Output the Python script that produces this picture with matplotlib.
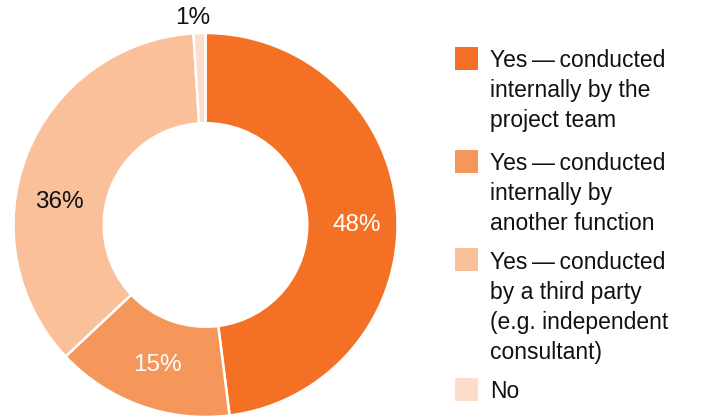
import matplotlib
matplotlib.use("Agg")
import matplotlib.pyplot as plt
from matplotlib.patches import Rectangle

plt.rcParams['font.family'] = ['Liberation Sans', 'DejaVu Sans']

# Data
categories = [
    "Yes\u2009\u2014\u2009conducted\ninternally by the\nproject team",
    "Yes\u2009\u2014\u2009conducted\ninternally by\nanother function",
    "Yes\u2009\u2014\u2009conducted\nby a third party\n(e.g. independent\nconsultant)",
    "No",
]
values = [48, 15, 36, 1]
pct_labels = ["48%", "15%", "36%", "1%"]
colors = ["#F37024", "#F5965B", "#FAC09A", "#FDDDCA"]
label_colors = ["white", "white", "#111111", "#111111"]
# label positions (fraction of radius, layout only)
label_pos = [(0.79, 0.0), (-0.25, -0.73), (-0.76, 0.12), (-0.065, 1.08)]

W, H = 705, 417
fig = plt.figure(figsize=(W / 100, H / 100), dpi=100)

cx, cy, R = 205.5, 225, 192
ax = fig.add_axes([(cx - R) / W, (H - cy - R) / H, 2 * R / W, 2 * R / H])
wedges, _ = ax.pie(values, colors=colors, startangle=90, counterclock=False,
                   radius=1.0,
                   wedgeprops=dict(width=0.47, edgecolor="white", linewidth=1.8))
ax.set_xlim(-1, 1)
ax.set_ylim(-1, 1)
ax.set_aspect("equal")
ax.axis("off")

for lab, (x, y), c in zip(pct_labels, label_pos, label_colors):
    ax.text(x, y, lab, ha="center", va="center", fontsize=17.5, color=c, clip_on=False)

# Legend (manual layout)
sq_tops = [47, 150, 248, 378]
baselines = [67, 170, 269, 398]
line_step = 30
sq = 23
for col, cat, top, base in zip(colors, categories, sq_tops, baselines):
    fig.patches.append(Rectangle((455 / W, 1 - (top + sq) / H), sq / W, sq / H,
                                 transform=fig.transFigure, facecolor=col,
                                 edgecolor="none"))
    for i, line in enumerate(cat.split("\n")):
        fig.text(490 / W, 1 - (base + i * line_step) / H, line, ha="left",
                 va="baseline", fontsize=16.5, color="#111111")

fig.savefig("out.png", dpi=100)
